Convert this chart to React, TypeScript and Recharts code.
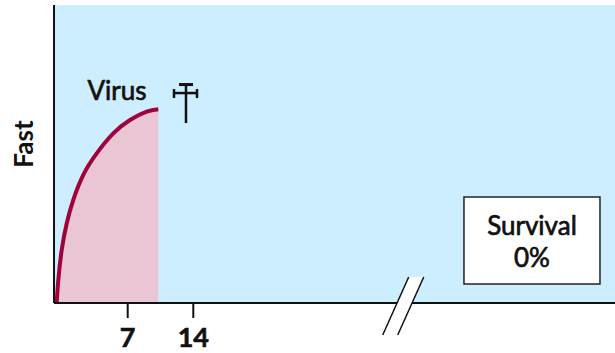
import React from 'react';
import { ComposedChart, Area, XAxis, YAxis, CartesianGrid, ReferenceDot } from 'recharts';

// Days since infection (x) and virus level (y, % of plot height)
const days = [-0.577, -0.406, -0.043, 0.49, 1.195, 2.262, 3.692, 5.463, 7.245, 9.027, 10.265];
const virus = [0, 7.7, 17.8, 26.7, 34.6, 43.0, 50.2, 56.9, 61.4, 64.2, 65.0];
const tickValues = [7, 14];
const tickLabels = ['7', '14'];

const data = days.map((d, i) => ({ day: d, virus: virus[i] }));

const FONT = 'Lato, "Open Sans", sans-serif';
const BLUE = '#CCEEFF';
const PINK = '#EAC6D4';
const CURVE = '#A0003C';

const Tick = (props: any) => {
  const { x, y, payload } = props;
  const idx = tickValues.indexOf(payload.value);
  return (
    <text x={x} y={y + 29} textAnchor="middle" fontFamily={FONT} fontWeight="bold" fontSize={27} fill="#111"
      stroke="#111" strokeWidth={0.6}>
      {idx >= 0 ? tickLabels[idx] : payload.value}
    </text>
  );
};

const FastLabel = (props: any) => {
  const vb = props.viewBox || { x: 0, y: 0, width: 54, height: 298 };
  const cx = vb.x + 22.5;
  const cy = vb.y + vb.height / 2 - 10;
  return (
    <text x={cx} y={cy} transform={`rotate(-90 ${cx} ${cy})`} textAnchor="middle" dominantBaseline="central"
      fontFamily={FONT} fontWeight="bold" fontSize={26} fill="#111">Fast</text>
  );
};

const VirusText = (props: any) => (
  <text x={props.cx} y={props.cy} textAnchor="middle" fontFamily={FONT} fontSize={26} fill="#111"
    stroke="#111" strokeWidth={0.7}>Virus</text>
);

const Cross = (props: any) => {
  const { cx, cy } = props;
  return (
    <g stroke="#111" fill="none" strokeWidth={2.5}>
      <line x1={cx} y1={cy - 19} x2={cx} y2={cy + 20} />
      <line x1={cx - 7} y1={cy - 18.5} x2={cx + 7} y2={cy - 18.5} strokeWidth={3} />
      <line x1={cx - 12} y1={cy - 10} x2={cx + 11} y2={cy - 10} />
      <line x1={cx - 12} y1={cy - 14} x2={cx - 12} y2={cy - 5} />
      <line x1={cx + 11} y1={cy - 14} x2={cx + 11} y2={cy - 5} />
    </g>
  );
};

const SurvivalBox = (props: any) => {
  const { cx, cy } = props;
  return (
    <g>
      <rect x={cx - 68} y={cy - 43.5} width={136} height={87} fill="#fff" stroke="#222" strokeWidth={1.5} />
      <text x={cx} y={cy - 5.5} textAnchor="middle" fontFamily={FONT} fontSize={26} fill="#111"
        stroke="#111" strokeWidth={0.7}>Survival</text>
      <text x={cx} y={cy + 26.5} textAnchor="middle" fontFamily={FONT} fontSize={26} fill="#111"
        stroke="#111" strokeWidth={0.7}>0%</text>
    </g>
  );
};

const BreakMark = (props: any) => {
  const { cx, cy } = props;
  return (
    <g>
      <polygon points={`${cx + 5.5},${cy - 26} ${cx + 20.5},${cy - 26} ${cx - 5.5},${cy + 32} ${cx - 20.5},${cy + 32}`} fill="#fff" />
      <line x1={cx + 5.5} y1={cy - 26} x2={cx - 20.5} y2={cy + 32} stroke="#111" strokeWidth={1.5} />
      <line x1={cx + 20.5} y1={cy - 26} x2={cx - 5.5} y2={cy + 32} stroke="#111" strokeWidth={1.5} />
    </g>
  );
};

export default function App() {
  return (
    <div style={{ position: 'absolute', left: 0, top: 0, background: '#fff' }}>
      <ComposedChart width={615} height={353} data={data} margin={{ top: 5, right: 0, left: 0, bottom: 0 }}>
        <CartesianGrid horizontal={false} vertical={false} fill={BLUE} stroke="none" />
        <XAxis
          dataKey="day"
          type="number"
          domain={[-0.865, 59]}
          allowDataOverflow
          ticks={tickValues}
          tick={<Tick />}
          tickSize={15}
          tickMargin={0}
          height={50}
          axisLine={{ stroke: '#111', strokeWidth: 2 }}
          tickLine={{ stroke: '#111', strokeWidth: 2 }}
        />
        <YAxis
          type="number"
          domain={[0, 100]}
          width={54}
          tick={false}
          tickLine={false}
          axisLine={{ stroke: '#111', strokeWidth: 2 }}
          label={<FastLabel />}
        />
        <Area
          dataKey="virus"
          type="natural"
          fill={PINK}
          fillOpacity={1}
          stroke={CURVE}
          strokeWidth={4}
          isAnimationActive={false}
          dot={false}
          activeDot={false}
        />
        <ReferenceDot x={5.86} y={68.1} r={0} shape={<VirusText />} ifOverflow="visible" />
        <ReferenceDot x={13.22} y={67.1} r={0} shape={<Cross />} ifOverflow="visible" />
        <ReferenceDot x={50.14} y={20.97} r={0} shape={<SurvivalBox />} ifOverflow="visible" />
        <ReferenceDot x={36.4} y={0} r={0} shape={<BreakMark />} ifOverflow="visible" />
      </ComposedChart>
    </div>
  );
}
